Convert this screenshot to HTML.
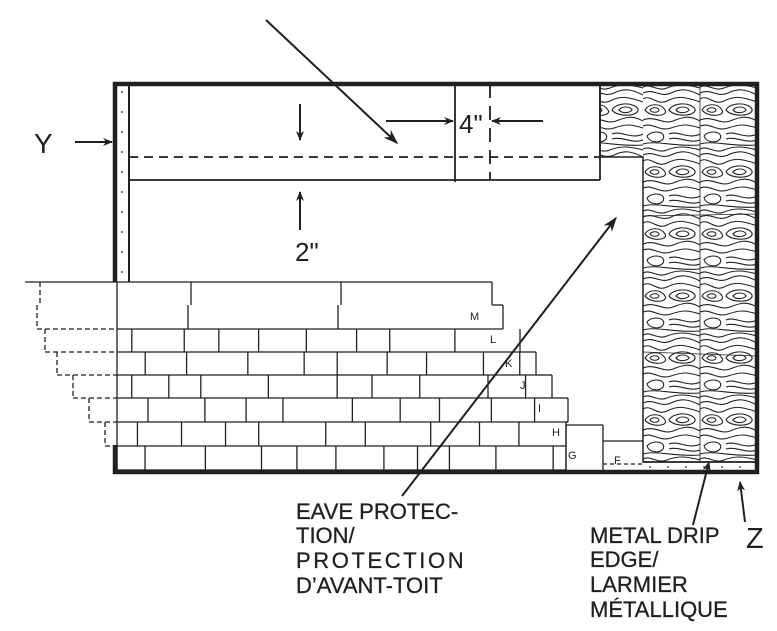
<!DOCTYPE html>
<html><head><meta charset="utf-8"><style>
html,body{margin:0;padding:0;background:#fff;}
svg{display:block;}
text{font-family:"Liberation Sans",sans-serif;fill:#231f20;}
</style></head><body>
<svg id="s" width="777" height="631" viewBox="0 0 777 631" xmlns="http://www.w3.org/2000/svg">
<defs>
<marker id="ah" viewBox="0 0 10 10" refX="9" refY="5" markerWidth="10" markerHeight="10" orient="auto-start-reverse" markerUnits="userSpaceOnUse">
<path d="M0,1 L10,5 L0,9 L3,5 Z" fill="#231f20"/></marker>
<marker id="ah2" viewBox="0 0 10 10" refX="9" refY="5" markerWidth="15" markerHeight="15" orient="auto" markerUnits="userSpaceOnUse">
<path d="M0,1.5 L10,5 L0,8.5 L3,5 Z" fill="#231f20"/></marker>
<pattern id="wood" width="57" height="62" patternUnits="userSpaceOnUse" x="643" y="84">
<rect width="57" height="62" fill="#fff"/>
<g fill="none" stroke="#231f20" stroke-width="1.1">
<path d="M0,3 C8,-1 14,8 24,4 S42,0 57,4"/>
<path d="M0,9 C10,4 18,14 28,9 S45,5 57,11"/>
<path d="M0,15 C8,10 14,22 24,17 S40,12 57,18"/>
<path d="M2,26 C6,19 18,19 22,26 C26,32 8,34 2,26Z"/>
<path d="M7,26 C9,23 15,23 16,26 C15,29 9,29 7,26Z"/>
<path d="M26,26 C30,18 48,18 52,25 C54,32 32,34 26,26Z"/>
<path d="M33,26 C36,22 44,22 46,26 C44,29 36,30 33,26Z"/>
<path d="M0,36 C12,31 20,41 30,37 S46,31 57,37"/>
<path d="M0,42 C10,38 16,48 28,44 S44,40 57,44"/>
<path d="M4,52 C10,45 24,48 20,55 C16,60 6,58 4,52Z"/>
<path d="M26,50 C34,46 46,56 57,50"/>
<path d="M26,55 C36,52 46,60 57,56"/>
<path d="M0,60 C14,56 30,63 57,61"/>
</g>
</pattern>
</defs>

<path d="M600,84 H757 V462 H643 V157 H600 Z" fill="url(#wood)" stroke="#231f20" stroke-width="1.5"/>
<line x1="700" y1="84" x2="700" y2="462" stroke="#231f20" stroke-width="0.8"/>
<line x1="643" y1="352" x2="757" y2="356" stroke="#231f20" stroke-width="0.8"/>
<line x1="643" y1="216" x2="757" y2="214" stroke="#231f20" stroke-width="0.8"/>

<line x1="129" y1="180" x2="600" y2="180" stroke="#231f20" stroke-width="1.8"/>
<line x1="600" y1="84" x2="600" y2="180" stroke="#231f20" stroke-width="1.8"/>
<line x1="129" y1="157" x2="600" y2="157" stroke="#231f20" stroke-width="1.8" stroke-dasharray="9,6"/>
<line x1="455" y1="84" x2="455" y2="182" stroke="#231f20" stroke-width="1.8"/>
<line x1="490" y1="84" x2="490" y2="180" stroke="#231f20" stroke-width="1.8" stroke-dasharray="14,8"/>

<path d="M115,282 V84 H757 V472 H115 V445" fill="none" stroke="#231f20" stroke-width="4.5"/>
<line x1="129" y1="84" x2="129" y2="282" stroke="#231f20" stroke-width="2"/>
<g id="dots" fill="#231f20"></g>
<line x1="643" y1="462" x2="757" y2="462" stroke="#231f20" stroke-width="1.5"/>

<g id="sh" fill="none" stroke="#231f20" stroke-width="1.3"></g>

<g stroke="#231f20" stroke-width="2" fill="none">
<line x1="75" y1="142" x2="112" y2="142" marker-end="url(#ah)"/>
<line x1="300" y1="104" x2="300" y2="140" marker-end="url(#ah)"/>
<line x1="300" y1="230" x2="300" y2="192" marker-end="url(#ah)"/>
<line x1="386" y1="121" x2="453" y2="121" marker-end="url(#ah)"/>
<line x1="543" y1="121" x2="492" y2="121" marker-end="url(#ah)"/>
<line x1="266" y1="20" x2="397" y2="143" marker-end="url(#ah2)"/>
<line x1="402" y1="496" x2="616" y2="218" marker-end="url(#ah2)"/>
<line x1="693" y1="525" x2="709" y2="462" marker-end="url(#ah)"/>
<line x1="745" y1="522" x2="740" y2="482" marker-end="url(#ah)"/>
</g>

<text x="34" y="153" font-size="28">Y</text>
<text x="459" y="133" font-size="26">4"</text>
<text x="295" y="261" font-size="26">2"</text>
<text x="746" y="548" font-size="29">Z</text>
<g font-size="11">
<text x="470" y="320">M</text><text x="490" y="343">L</text><text x="505" y="367">K</text>
<text x="520" y="389">J</text><text x="538" y="412">I</text><text x="552" y="436">H</text>
<text x="568" y="459">G</text><text x="614" y="464">F</text>
</g>
<g font-size="22" letter-spacing="0" stroke="#231f20" stroke-width="0.3">
<text x="296" y="519">EAVE PROTEC-</text>
<text x="296" y="543">TION/</text>
<text x="296" y="568" letter-spacing="2.6">PROTECTION</text>
<text x="296" y="593">D’AVANT-TOIT</text>
<text x="590" y="543">METAL DRIP</text>
<text x="590" y="567">EDGE/</text>
<text x="590" y="592">LARMIER</text>
<text x="590" y="617">MÉTALLIQUE</text>
</g>
</svg>
<script>
(function(){
var NS="http://www.w3.org/2000/svg";
var sh=document.getElementById("sh"),dots=document.getElementById("dots");
function L(x1,y1,x2,y2,d){var l=document.createElementNS(NS,"line");l.setAttribute("x1",x1);l.setAttribute("y1",y1);l.setAttribute("x2",x2);l.setAttribute("y2",y2);if(d)l.setAttribute("stroke-dasharray","5,3");sh.appendChild(l);}
function C(x,y){var c=document.createElementNS(NS,"circle");c.setAttribute("cx",x);c.setAttribute("cy",y);c.setAttribute("r",0.9);dots.appendChild(c);}
for(var y=92;y<282;y+=20)C(122,y);
[650,668,686,704,722,740].forEach(function(x){C(x,467);});
L(25,282,492,282);
L(40,282,40,305,1);L(37,305,37,329,1);
L(191,282,191,305);L(188,305,188,329);L(341,282,341,305);L(338,305,338,329);
L(492,282,492,305);L(492,305,503,305);L(503,305,503,329);
var bands=[[329,352,45,520],[352,375,57,536],[375,398,73,552],[398,422,89,568],[422,446,105,566],[446,470,117,566]];
var seed=7;function r(){seed=(seed*9301+49297)%233280;return seed/233280;}
L(117,329,503,329,0);
L(37,329,117,329,1);
for(var i=0;i<bands.length;i++){
 var b=bands[i],y0=b[0],y1=b[1],x0=b[2],x1=b[3];
 if(x0<117){L(x0,y1,117,y1,1);}
 L(117,y1,x1,y1);
 L(x0,y0,x0,y1,x0<117);
 L(x1,y0,x1,y1);
 if(i>0){L(bands[i-1][3],y0,x1,y0);}
 var x=117+(i%2?20:5)+r()*20;
 while(x<x1-12){
  L(x,y0,x,y1);
  x+=30+r()*40;
 }
}
L(117,282,117,470);
L(566,425,603,425);L(603,425,603,470);L(566,425,566,470);
L(603,441,643,441);
var f=document.createElementNS(NS,"line");f.setAttribute("x1",603);f.setAttribute("y1",464);f.setAttribute("x2",643);f.setAttribute("y2",464);f.setAttribute("stroke-dasharray","4,3");sh.appendChild(f);
})();
</script>
</body></html>
